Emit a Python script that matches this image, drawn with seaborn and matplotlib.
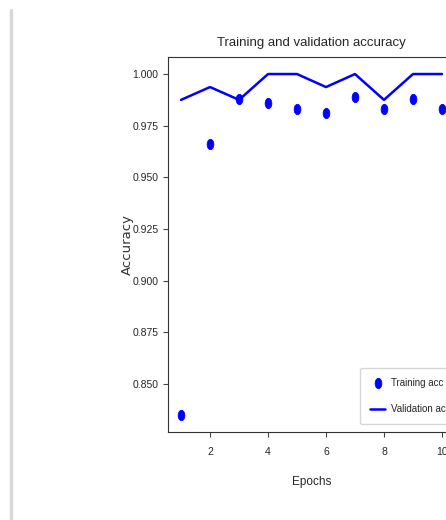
import matplotlib
matplotlib.use("Agg")
import matplotlib.pyplot as plt
import seaborn as sns
import pandas as pd
from matplotlib.lines import Line2D
from matplotlib.path import Path
from matplotlib.transforms import Affine2D

epochs = [1, 2, 3, 4, 5, 6, 7, 8, 9, 10]
train_acc = [0.835, 0.966, 0.988, 0.986, 0.983, 0.981, 0.989, 0.983, 0.988, 0.983]
val_acc = [0.9875, 0.9937, 0.9875, 1.0, 1.0, 0.9937, 1.0, 0.9875, 1.0, 1.0]

df = pd.DataFrame({'epoch': epochs, 'train': train_acc, 'val': val_acc})

sns.set_style("ticks")
plt.rcParams['font.family'] = ['Liberation Sans', 'DejaVu Sans']

# picture is squeezed sideways, so the dots look like upright ellipses
oval = Affine2D().scale(0.65, 1.0).transform_path(Path.unit_circle())

fig = plt.figure(figsize=(4.46, 5.2), dpi=100)
ax = fig.add_axes([0.3767, 0.1692, 0.6435, 0.7212])

sns.scatterplot(x='epoch', y='train', data=df, ax=ax, color='blue', s=55,
                marker=oval, edgecolor='blue', label='Training acc')
sns.lineplot(x='epoch', y='val', data=df, ax=ax, color='blue', linewidth=1.8,
             label='Validation acc')

ax.set_title('Training and validation accuracy', fontsize=9.5, pad=8)
ax.set_xlabel('Epochs', fontsize=8.5, labelpad=14)
ax.set_ylabel('Accuracy', fontsize=9.5, family='DejaVu Sans', labelpad=-1,
              color='#333333')
ax.set_xticks([2, 4, 6, 8, 10])
ax.set_yticks([0.850, 0.875, 0.900, 0.925, 0.950, 0.975, 1.000])
ax.set_yticklabels(['{:.3f}'.format(v) for v in ax.get_yticks()])
ax.tick_params(labelsize=7.5, direction='out', length=3.5, color='#444444')
ax.tick_params(axis='x', pad=7)
for s in ax.spines.values():
    s.set_visible(True)
    s.set_color('#333333')
ax.legend(loc='lower left', bbox_to_anchor=(0.669, 0.021), borderaxespad=0,
          fontsize=7, frameon=True, borderpad=1.0, labelspacing=1.7,
          handlelength=1.6, handletextpad=0.6)

# thin grey strip at the left of the picture
fig.add_artist(Line2D([0.025, 0.025], [0.0, 0.98], transform=fig.transFigure,
                      color='#d8d8d8', linewidth=2.5))

fig.savefig('out.png', dpi=100)
